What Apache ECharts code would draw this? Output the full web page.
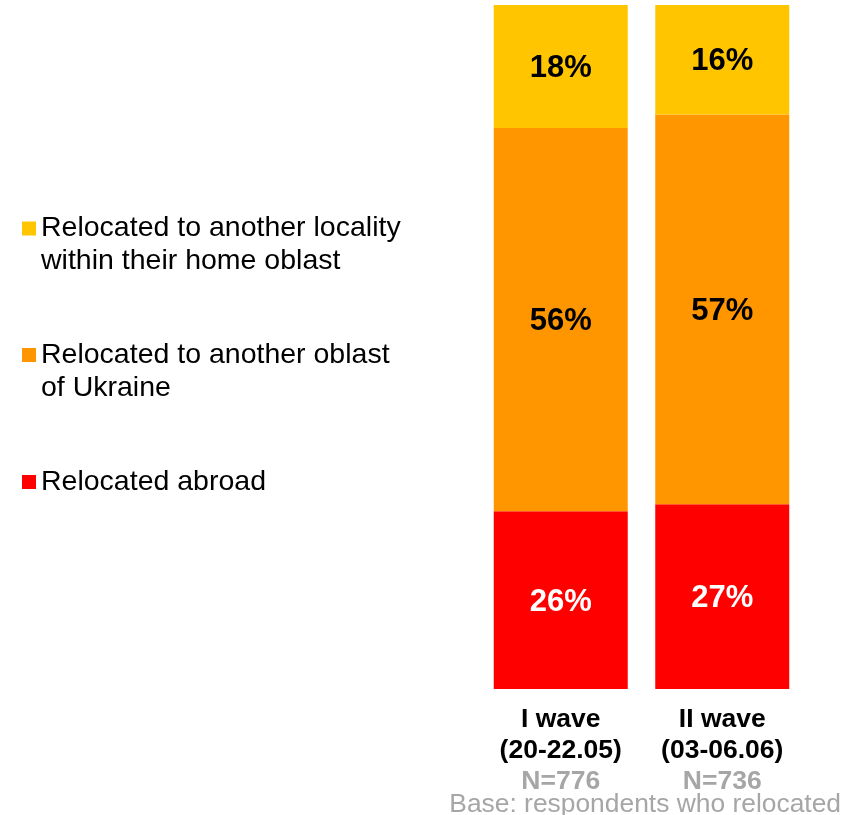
<!DOCTYPE html>
<html>
<head>
<meta charset="utf-8">
<script src="https://cdn.jsdelivr.net/npm/echarts@6/dist/echarts.min.js"></script>
<style>
html,body{margin:0;padding:0;background:#fff;}
#chart{width:841px;height:815px;}
</style>
</head>
<body>
<div id="chart"></div>
<script>
const categories = ['I wave', 'II wave'];
const categoryDates = ['(20-22.05)', '(03-06.06)'];
const sampleSizes = ['N=776', 'N=736'];
const seriesNames = ['Relocated abroad', 'Relocated to another oblast of Ukraine', 'Relocated to another locality within their home oblast'];
const legendLines = [['Relocated abroad'], ['Relocated to another oblast', 'of Ukraine'], ['Relocated to another locality', 'within their home oblast']];
const abroad = [26, 27];
const otherOblast = [56, 57];
const homeOblast = [18, 16];
const baseNote = 'Base: respondents who relocated';

const colors = ['#FF0000', '#FF9600', '#FFC600'];
const labelColors = ['#FFFFFF', '#000000', '#000000'];
const values = [abroad, otherOblast, homeOblast];
const FONT = '"Liberation Sans", Arial, sans-serif';

const chart = echarts.init(document.getElementById('chart'));

const legendTops = [465.5, 305.5, 179];
const legends = seriesNames.map((name, i) => {
  const lines = legendLines[i];
  const two = lines.length > 1;
  return {
    left: 22,
    top: legendTops[i],
    padding: 0,
    selectedMode: false,
    itemWidth: 14,
    itemHeight: 14,
    icon: 'rect',
    data: [{ name: name, itemStyle: { color: colors[i] } }],
    // a leading blank line keeps the first text line level with the square
    formatter: () => (two ? ' \n' : '') + lines.join('\n'),
    textStyle: {
      fontFamily: FONT,
      fontSize: 28.5,
      color: '#000',
      lineHeight: 33,
      verticalAlign: 'middle'
    }
  };
});

const option = {
  animation: false,
  backgroundColor: '#fff',
  title: {
    text: baseNote,
    right: 0,
    top: 791,
    padding: 0,
    textStyle: { fontFamily: FONT, fontSize: 26.4, fontWeight: 'normal', color: '#A6A6A6', lineHeight: 28 }
  },
  legend: legends,
  grid: { left: 480, right: 38, top: 5, bottom: 126, containLabel: false },
  xAxis: {
    type: 'category',
    data: categories,
    axisLine: { show: false },
    axisTick: { show: false },
    axisLabel: {
      margin: 15,
      interval: 0,
      formatter: (v, idx) => '{b|' + v + '}\n{b|' + categoryDates[idx] + '}\n{n|' + sampleSizes[idx] + '}',
      rich: {
        b: { fontFamily: FONT, fontSize: 26.5, fontWeight: 'bold', color: '#000', lineHeight: 31 },
        n: { fontFamily: FONT, fontSize: 26.5, fontWeight: 'bold', color: '#A6A6A6', lineHeight: 31 }
      }
    }
  },
  yAxis: {
    type: 'value',
    min: 0,
    max: 100,
    show: false,
    splitLine: { show: false }
  },
  series: seriesNames.map((name, i) => ({
    name: name,
    type: 'bar',
    stack: 'total',
    barWidth: 134,
    data: values[i],
    itemStyle: { color: colors[i] },
    label: {
      show: true,
      position: 'inside',
      offset: [0, 2],
      formatter: p => p.value + '%',
      fontFamily: FONT,
      fontSize: 31,
      fontWeight: 'bold',
      color: labelColors[i]
    }
  }))
};
chart.setOption(option);
</script>
</body>
</html>
